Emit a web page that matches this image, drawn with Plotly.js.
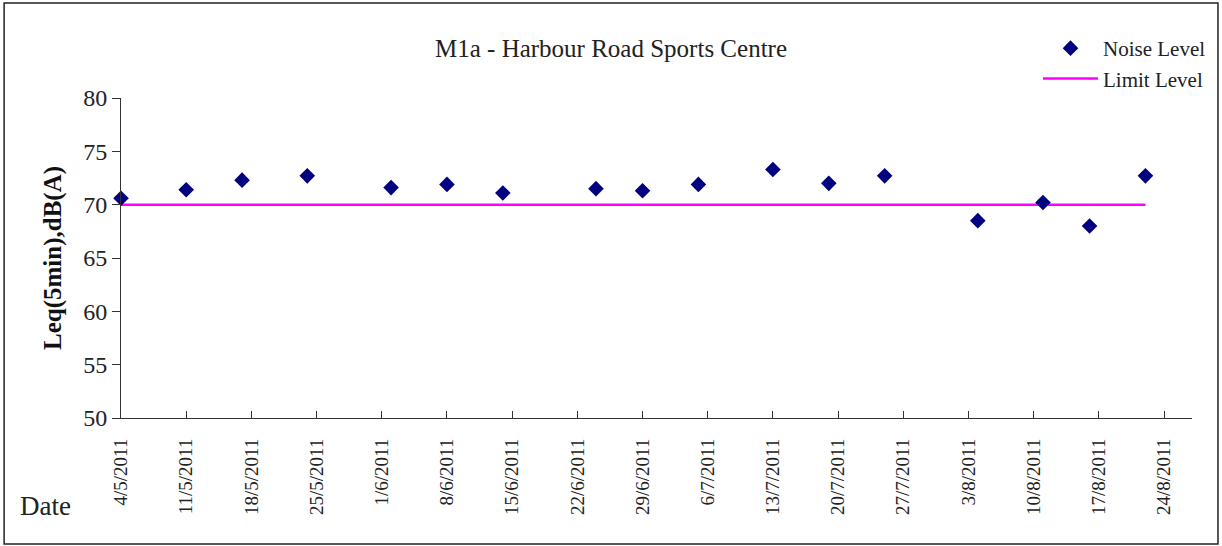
<!DOCTYPE html>
<html><head><meta charset="utf-8">
<script src="https://cdn.plot.ly/plotly-3.0.1.min.js"></script>
<style>html,body{margin:0;padding:0;background:#fff}#chart{width:1222px;height:546px}</style>
</head><body><div id="chart"></div>
<script>
// ---- data ----
const sampleDates = ['2011-05-04','2011-05-11','2011-05-17','2011-05-24','2011-06-02','2011-06-08','2011-06-14','2011-06-24','2011-06-29','2011-07-05','2011-07-13','2011-07-19','2011-07-25','2011-08-04','2011-08-11','2011-08-16','2011-08-22'];
const noiseLevel = [70.6,71.4,72.3,72.7,71.6,71.9,71.1,71.5,71.3,71.9,73.3,72.0,72.7,68.5,70.2,68.0,72.7];
const limitLevel = [70,70,70,70,70,70,70,70,70,70,70,70,70,70,70,70,70];
const tickDates = ['2011-05-04','2011-05-11','2011-05-18','2011-05-25','2011-06-01','2011-06-08','2011-06-15','2011-06-22','2011-06-29','2011-07-06','2011-07-13','2011-07-20','2011-07-27','2011-08-03','2011-08-10','2011-08-17','2011-08-24'];
const tickLabels = ['4/5/2011','11/5/2011','18/5/2011','25/5/2011','1/6/2011','8/6/2011','15/6/2011','22/6/2011','29/6/2011','6/7/2011','13/7/2011','20/7/2011','27/7/2011','3/8/2011','10/8/2011','17/8/2011','24/8/2011'];
const yTicks = [50,55,60,65,70,75,80];
const xRange = ['2011-05-04','2011-08-27'];
const yRange = [50,80];

// ---- layout helpers ----
const W = 1222, H = 546;
const M = {l:121, r:29, t:98, b:128};
const pw = W - M.l - M.r, ph = H - M.t - M.b;
const px = x => (x - M.l) / pw;
const py = y => (H - M.b - y) / ph;
const FONT = 'Liberation Serif, Times New Roman, serif';
const AX = '#333333';

const traces = [
  {type:'scatter', mode:'lines', x:sampleDates, y:limitLevel, name:'Limit Level',
   line:{color:'#FF00FF', width:2.5}, cliponaxis:false, legendrank:2, hoverinfo:'skip'},
  {type:'scatter', mode:'markers', x:sampleDates, y:noiseLevel, name:'Noise Level',
   marker:{symbol:'diamond', size:12, color:'#000080'}, cliponaxis:false, legendrank:1}
];

const layout = {
  width:W, height:H, margin:M,
  paper_bgcolor:'#fff', plot_bgcolor:'#fff',
  font:{family:FONT, color:'#222'},
  title:{text:'M1a - Harbour Road Sports Centre', font:{family:FONT, size:25, color:'#222'},
         x:0.5, xref:'container', y:1-48/H, yref:'container', yanchor:'middle'},
  showlegend:true,
  legend:{x:px(1038), xanchor:'left', y:py(28), yanchor:'top', bgcolor:'rgba(0,0,0,0)',
          font:{family:FONT, size:21, color:'#222'}, itemwidth:55, tracegroupgap:0},
  xaxis:{type:'date', range:xRange, tickmode:'array', tickvals:tickDates, ticktext:tickLabels,
         tickangle:-90, ticks:'inside', ticklen:7, tickcolor:AX, showline:true, linecolor:AX, linewidth:1,
         showgrid:false, zeroline:false, tickfont:{family:FONT, size:19, color:'#222'}, ticklabelstandoff:12},
  yaxis:{range:yRange, tickmode:'array', tickvals:yTicks, ticks:'outside', ticklen:8, tickcolor:AX,
         showline:true, linecolor:AX, linewidth:1, showgrid:false, zeroline:false,
         tickfont:{family:FONT, size:24, color:'#222'},
         title:{text:'Leq(5min),dB(A)', font:{family:FONT, size:25, weight:'bold', color:'#111'}, standoff:14}},
  yaxis2:{range:yRange, overlaying:'y', anchor:'x', side:'left', tickmode:'array', tickvals:yTicks,
          ticks:'inside', ticklen:9, tickcolor:AX, showticklabels:false, showline:false, showgrid:false, zeroline:false},
  annotations:[{text:'Date', xref:'paper', yref:'paper', x:px(45), y:py(506), xanchor:'center', yanchor:'middle',
                showarrow:false, font:{family:FONT, size:27, color:'#222'}}],
  shapes:[{type:'rect', xref:'paper', yref:'paper', x0:px(4), x1:px(1219), y0:py(544), y1:py(3),
           line:{color:'#222', width:1.5}, fillcolor:'rgba(0,0,0,0)', layer:'below'}]
};

Plotly.newPlot('chart', traces, layout, {displayModeBar:false, staticPlot:true});
</script></body></html>
